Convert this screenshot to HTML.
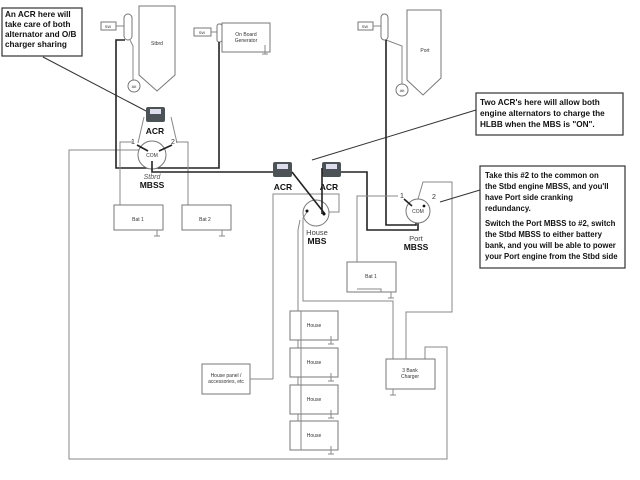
<!DOCTYPE html>
<html><head><style>
html,body{margin:0;padding:0;background:#fff;}
svg{display:block;font-family:"Liberation Sans",sans-serif;}
.g{stroke:#888;stroke-width:1;fill:none}
.k{stroke:#222;stroke-width:1.6;fill:none}
.b{stroke:#777;stroke-width:1;fill:#fff}
.t{font-size:5px;fill:#333;text-anchor:middle}
.c{font-size:8.2px;font-weight:bold;fill:#111}
.c3{font-size:7.8px;font-weight:bold;fill:#111}
</style></head><body>
<svg width="640" height="480" viewBox="0 0 640 480">
<polyline class="g" points="152,150 69,150 69,459 447,459 447,347 425,347 425,365"/>
<rect x="2" y="8" width="80" height="48" fill="#fff" stroke="#333" stroke-width="1.2"/>
<text class="c" x="5" y="17">An ACR here will</text>
<text class="c" x="5" y="27">take care of both</text>
<text class="c" x="5" y="37">alternator and O/B</text>
<text class="c" x="5" y="47">charger sharing</text>
<line x1="43" y1="57" x2="148" y2="112" stroke="#333" stroke-width="1"/>
<polygon class="b" points="139,6 175,6 175,75 157,91 139,75"/>
<text class="t" x="157" y="45">Stbrd</text>
<rect class="b" x="101" y="22" width="15" height="8"/><text class="t" x="108" y="28" style="font-size:4px">SW</text>
<line class="g" x1="116" y1="26" x2="124" y2="26"/>
<rect class="b" x="124" y="14" width="8" height="26" rx="4"/>
<polyline class="g" points="130,40 133,46 133,80"/>
<circle class="b" cx="134" cy="86" r="6"/><text class="t" x="134" y="88" style="font-size:4px">Alt</text>
<rect class="b" x="194" y="28" width="17" height="8"/><text class="t" x="202" y="34" style="font-size:4px">SW</text>
<line class="g" x1="211" y1="32" x2="217" y2="32"/>
<rect class="b" x="217" y="24" width="5" height="18" rx="2"/>
<rect class="b" x="222" y="23" width="48" height="29"/>
<text class="t" x="246" y="36">On Board</text><text class="t" x="246" y="42">Generator</text>
<line class="g" x1="265" y1="45" x2="265" y2="54"/><line class="g" x1="262" y1="54" x2="268" y2="54"/>
<polyline class="k" points="125,40 116,40 116,168 219,168 219,42"/>
<rect x="146" y="107" width="19" height="15" rx="2" fill="#4b5356"/>
<rect x="150" y="109" width="11" height="5" fill="#dde"/>
<text x="155" y="134" font-size="8.5" font-weight="bold" text-anchor="middle" fill="#111">ACR</text>
<line class="g" x1="144" y1="117" x2="138" y2="143"/><line class="g" x1="171" y1="117" x2="177" y2="143"/>
<circle class="b" cx="152" cy="155" r="14"/>
<text class="t" x="152" y="157">COM</text>
<line class="k" x1="137" y1="145" x2="148" y2="151"/><line class="k" x1="172" y1="145" x2="159" y2="151"/>
<text x="131" y="144" font-size="7" fill="#333">1</text><text x="171" y="144" font-size="7" fill="#333">2</text>
<polyline class="g" points="133,142 120,142 120,228"/>
<polyline class="g" points="176,142 188,142 188,228"/>
<text x="152" y="179" font-size="7" font-style="italic" fill="#555" text-anchor="middle">Stbrd</text>
<text x="152" y="188" font-size="8.5" font-weight="bold" fill="#111" text-anchor="middle">MBSS</text>
<polyline class="k" points="152,161 152,172 273,172"/>
<rect class="b" x="114" y="205" width="49" height="25" fill="none"/>
<text class="t" x="138" y="221">Bat 1</text>
<line class="g" x1="157" y1="230" x2="157" y2="236"/><line class="g" x1="154" y1="236" x2="160" y2="236"/>
<rect class="b" x="182" y="205" width="49" height="25" fill="none"/>
<text class="t" x="205" y="221">Bat 2</text>
<line class="g" x1="222" y1="230" x2="222" y2="236"/><line class="g" x1="219" y1="236" x2="225" y2="236"/>
<rect x="273" y="162" width="19" height="15" rx="2" fill="#4b5356"/><rect x="277" y="164" width="11" height="5" fill="#dde"/>
<text x="283" y="190" font-size="8.5" font-weight="bold" text-anchor="middle" fill="#111">ACR</text>
<rect x="322" y="162" width="19" height="15" rx="2" fill="#4b5356"/><rect x="326" y="164" width="11" height="5" fill="#dde"/>
<text x="329" y="190" font-size="8.5" font-weight="bold" text-anchor="middle" fill="#111">ACR</text>
<line x1="312" y1="160" x2="476" y2="110" stroke="#333" stroke-width="1"/>
<rect x="476" y="93" width="147" height="42" fill="#fff" stroke="#333" stroke-width="1.2"/>
<text class="c" x="480" y="105">Two ACR's here will allow both</text>
<text class="c" x="480" y="116">engine alternators to charge the</text>
<text class="c" x="480" y="127">HLBB  when the MBS is "ON".</text>
<polyline class="g" points="273,379 273,194 339,194 339,212 328,212"/>
<circle class="b" cx="316" cy="213" r="13"/>
<polyline class="g" points="307,212 303,218 303,301 393,301 393,365"/>
<polyline class="g" points="300,220 298,230 298,450"/>
<polyline class="k" points="292,172 325,214"/>
<polyline class="k" points="322,168 322,214"/>
<circle cx="307" cy="211" r="1.5" fill="#111"/><circle cx="324" cy="214" r="1.5" fill="#111"/>
<text x="317" y="235" font-size="7.5" fill="#444" text-anchor="middle">House</text>
<text x="317" y="244" font-size="8.5" font-weight="bold" fill="#111" text-anchor="middle">MBS</text>
<polygon class="b" points="407,10 441,10 441,78 423,95 407,80"/>
<text class="t" x="425" y="52">Port</text>
<rect class="b" x="358" y="22" width="15" height="8"/><text class="t" x="365" y="28" style="font-size:4px">SW</text>
<line class="g" x1="373" y1="26" x2="381" y2="26"/>
<rect class="b" x="381" y="14" width="7" height="26" rx="3.5"/>
<polyline class="g" points="386,40 402,46 402,84"/>
<circle class="b" cx="402" cy="90" r="6"/><text class="t" x="402" y="92" style="font-size:4px">Alt</text>
<polyline class="k" points="386,40 386,225 416,225 416,218"/>
<polyline class="k" points="341,172 367,172 367,230 418,230 418,220"/>
<polyline class="g" points="398,196 357,196 357,290"/>
<polyline class="g" points="418,199 423,182 452,182 452,312 406,312 406,365"/>
<circle class="b" cx="418" cy="211" r="12" fill="none"/>
<text class="t" x="418" y="213">COM</text>
<line class="k" x1="404" y1="199" x2="412" y2="206"/><circle cx="424" cy="206" r="1.4" fill="#111"/>
<text x="400" y="198" font-size="7" fill="#333">1</text><text x="432" y="199" font-size="7" fill="#333">2</text>
<text x="416" y="241" font-size="7.5" fill="#444" text-anchor="middle">Port</text>
<text x="416" y="250" font-size="8.5" font-weight="bold" fill="#111" text-anchor="middle">MBSS</text>
<line x1="440" y1="202" x2="480" y2="190" stroke="#333" stroke-width="1"/>
<rect x="480" y="166" width="145" height="102" fill="#fff" stroke="#333" stroke-width="1.2"/>
<text class="c3" x="485" y="178">Take this #2 to the common on</text>
<text class="c3" x="485" y="189">the Stbd engine MBSS, and you'll</text>
<text class="c3" x="485" y="200">have Port side cranking</text>
<text class="c3" x="485" y="211">redundancy.</text>
<text class="c3" x="485" y="226">Switch the Port MBSS to #2, switch</text>
<text class="c3" x="485" y="237">the Stbd MBSS to either battery</text>
<text class="c3" x="485" y="248">bank, and you will be able to power</text>
<text class="c3" x="485" y="259">your Port engine from the Stbd side</text>
<rect class="b" x="347" y="262" width="49" height="30" fill="none"/>
<text class="t" x="371" y="278">Bat 1</text>
<polyline class="g" points="357,289 381,289 381,292"/>
<line class="g" x1="391" y1="292" x2="391" y2="298"/><line class="g" x1="388" y1="298" x2="394" y2="298"/>
<g>
<rect class="b" x="290" y="311" width="48" height="29" fill="none"/><text class="t" x="314" y="327">House</text>
<rect class="b" x="290" y="348" width="48" height="29" fill="none"/><text class="t" x="314" y="364">House</text>
<rect class="b" x="290" y="385" width="48" height="29" fill="none"/><text class="t" x="314" y="401">House</text>
<rect class="b" x="290" y="421" width="48" height="29" fill="none"/><text class="t" x="314" y="437">House</text>
<line class="g" x1="301" y1="311" x2="301" y2="450"/>
<line class="g" x1="331" y1="336" x2="331" y2="344"/><line class="g" x1="328" y1="344" x2="334" y2="344"/>
<line class="g" x1="331" y1="373" x2="331" y2="381"/><line class="g" x1="328" y1="381" x2="334" y2="381"/>
<line class="g" x1="331" y1="410" x2="331" y2="418"/><line class="g" x1="328" y1="418" x2="334" y2="418"/>
<line class="g" x1="331" y1="446" x2="331" y2="454"/><line class="g" x1="328" y1="454" x2="334" y2="454"/>
</g>
<rect class="b" x="202" y="364" width="48" height="30" fill="none"/>
<text class="t" x="226" y="377">House panel /</text><text class="t" x="226" y="383">accessories, etc</text>
<line class="g" x1="250" y1="379" x2="273" y2="379"/>
<rect class="b" x="386" y="359" width="49" height="30" fill="none"/>
<text class="t" x="410" y="372">3 Bank</text><text class="t" x="410" y="378">Charger</text>
<line class="g" x1="393" y1="389" x2="393" y2="395"/><line class="g" x1="390" y1="395" x2="396" y2="395"/>
</svg>
</body></html>
